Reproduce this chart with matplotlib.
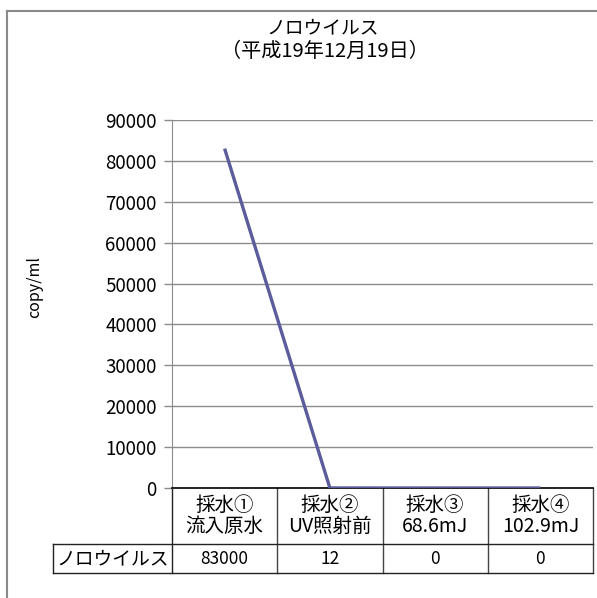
import matplotlib
matplotlib.use("Agg")
import matplotlib.pyplot as plt
import matplotlib.transforms as mtransforms
from matplotlib.lines import Line2D

plt.rcParams['font.family'] = ['Noto Sans CJK JP', 'DejaVu Sans']

# --- データ ---
TITLE = "ノロウイルス"
SUBTITLE = "（平成19年12月19日）"
CATEGORIES = ["採水①\n流入原水", "採水②\nUV照射前", "採水③\n68.6mJ", "採水④\n102.9mJ"]
SERIES_NAME = "ノロウイルス"
VALUES = [83000, 12, 0, 0]
Y_TICKS = [0, 10000, 20000, 30000, 40000, 50000, 60000, 70000, 80000, 90000]
Y_LABEL = "copy/ml"

W, H = 597, 598
LINE_COLOR = "#5a5c9c"
GRID_COLOR = "#8c8c8c"


def fx(x):
    return x / W


def fy(y):
    return 1 - y / H


fig = plt.figure(figsize=(W / 100, H / 100), dpi=100)
fig.patch.set_facecolor("white")

# プロット領域（ピクセル指定）
left, right, top, bottom = 172, 593, 120, 488
ax = fig.add_axes([fx(left), fy(bottom), fx(right - left), (bottom - top) / H])

x = list(range(len(VALUES)))
ax.plot(x, VALUES, color=LINE_COLOR, lw=2.4, solid_capstyle="butt", zorder=3)

ax.set_xlim(-0.5, len(VALUES) - 0.5)
ax.set_ylim(0, 90000)
ax.set_yticks(Y_TICKS)
ax.set_yticklabels([str(v) for v in Y_TICKS], fontsize=13.5)
ax.set_xticks([])
ax.yaxis.grid(True, color=GRID_COLOR, lw=1)
ax.set_axisbelow(True)
ax.tick_params(axis="y", length=6, width=1, color=GRID_COLOR, pad=5)
for side in ("top", "right"):
    ax.spines[side].set_visible(False)
ax.spines["left"].set_color(GRID_COLOR)
ax.spines["bottom"].set_color("black")
ax.spines["bottom"].set_linewidth(1.2)

# タイトル
fig.text(fx(323), fy(28), TITLE, ha="center", va="center", fontsize=13.5)
fig.text(fx(325), fy(51), SUBTITLE, ha="center", va="center", fontsize=14.5)

# 縦軸ラベル
fig.text(fx(35), fy(287), Y_LABEL, ha="center", va="center", rotation=90, fontsize=11.5)

# 外枠（上と左のみ見える）
fig.add_artist(Line2D([fx(7), 1], [fy(11), fy(11)], color="#8a8a8a", lw=1.5))
fig.add_artist(Line2D([fx(7), fx(7)], [fy(11), 0], color="#8a8a8a", lw=1.5))

# データテーブル
blend = mtransforms.blended_transform_factory(ax.transData, fig.transFigure)
row1, row2 = fy(544), fy(573)
label_left = fx(53)
tcol = "#222222"

fig.add_artist(Line2D([label_left, fx(right)], [row1, row1], color=tcol, lw=1))
fig.add_artist(Line2D([label_left, fx(right)], [row2, row2], color=tcol, lw=1))
fig.add_artist(Line2D([label_left, label_left], [row1, row2], color=tcol, lw=1))
fig.add_artist(Line2D([fx(left), fx(left)], [fy(bottom), row2], color=tcol, lw=1))
for i in range(len(VALUES)):
    b = i + 0.5
    ax.plot([b, b], [fy(bottom), row2], transform=blend, color="#444444", lw=1, clip_on=False)

for i, (cat, val) in enumerate(zip(CATEGORIES, VALUES)):
    ax.text(i, fy(516), cat, transform=blend, ha="center", va="center",
            fontsize=14, linespacing=1.0)
    ax.text(i, fy(559), str(val), transform=blend, ha="center", va="center", fontsize=12.5)

fig.text(fx(56), fy(559), SERIES_NAME, ha="left", va="center", fontsize=13.5)

fig.savefig("out.png", dpi=100, facecolor="white")
